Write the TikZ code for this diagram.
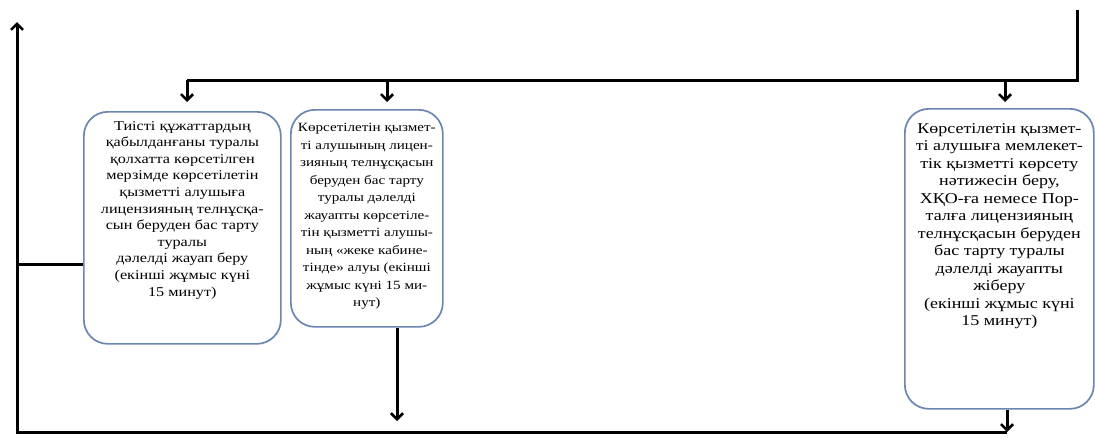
\documentclass[tikz,border=0pt]{standalone}
\usepackage{fontspec}
\setmainfont{Liberation Serif}
\newfontfamily\widefont[FakeStretch=1.2]{Liberation Serif}
\usetikzlibrary{arrows.meta,calc}
\definecolor{boxblue}{HTML}{6B86B0}
\tikzset{
  box/.style={draw=boxblue, line width=1.7pt, rounded corners=24pt, fill=white, minimum width=#1},
  btext/.style={anchor=north, align=center, inner sep=0pt},
  conn/.style={line width=3pt, black},
  arr/.style={conn, -{Straight Barb[length=6pt,width=12pt,line width=2.6pt]}},
}
\begin{document}
\begin{tikzpicture}[x=1pt,y=-1pt]
\useasboundingbox (0,0) rectangle (1095,439);
% boxes
\node[box=197pt, minimum height=232pt, anchor=north west] (box1) at (83,111) {};
\node[box=152pt, minimum height=217pt, anchor=north west] (box2) at (290,109) {};
\node[box=189pt, minimum height=300pt, anchor=north west] (box3) at (904,108) {};
% texts
\node[btext, font=\widefont\fontsize{13.5}{16.6}\selectfont] (t1) at ($(box1.north)+(0,10)$) {Тиісті құжаттардың\\қабылданғаны туралы\\қолхатта көрсетілген\\мерзімде көрсетілетін\\қызметті алушыға\\лицензияның телнұсқа-\\сын беруден бас тарту\\туралы\\дәлелді жауап беру\\(екінші жұмыс күні\\15 минут)};
\node[btext, font=\widefont\fontsize{12.6}{17.5}\selectfont] (t2) at ($(box2.north)+(0,14)$) {Көрсетілетін қызмет-\\ті алушының лицен-\\зияның телнұсқасын\\беруден бас тарту\\туралы дәлелді\\жауапты көрсетіле-\\тін қызметті алушы-\\ның «жеке кабине-\\тінде» алуы (екінші\\жұмыс күні 15 ми-\\нут)};
\node[btext, font=\widefont\fontsize{15}{17.5}\selectfont] (t3) at ($(box3.north)+(0,15)$) {Көрсетілетін қызмет-\\ті алушыға мемлекет-\\тік қызметті көрсету\\нәтижесін беру,\\ХҚО-ға немесе Пор-\\талға лицензияның\\телнұсқасын беруден\\бас тарту туралы\\дәлелді жауапты\\жіберу\\(екінші жұмыс күні\\15 минут)};
% coordinates
\coordinate (topR) at (1077,10);
\coordinate (busR) at (1077,80);
\coordinate (bus1) at (187,80);
\coordinate (bus2) at (387,80);
\coordinate (bus3) at (1005,80);
\coordinate (botL) at (17,432);
\coordinate (botR) at (1007,432);
\coordinate (upEnd) at (17,22);
\coordinate (mid2) at (397,421);
% connectors
\draw[conn] (topR) -- (busR) -- (bus1);
\draw[arr] (bus1) -- (bus1 |- 0,102);
\draw[arr] (bus2) -- (bus2 |- 0,102);
\draw[arr] (bus3) -- (bus3 |- 0,102);
\draw[arr] (botR) -- (botL) -- (upEnd);
\draw[arr] (box3.south -| botR) -- (botR);
\draw[arr] (box2.south -| mid2) -- (mid2);
\draw[conn] (botL |- 0,264) -- (box1.west |- 0,264);
\end{tikzpicture}
\end{document}
